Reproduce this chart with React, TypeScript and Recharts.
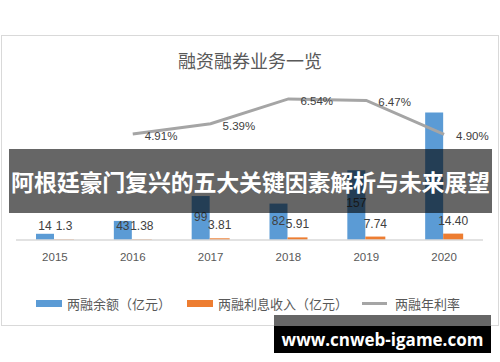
import React from 'react';
import {
  ComposedChart,
  Bar,
  Line,
  XAxis,
  YAxis,
  Legend,
  LabelList,
} from 'recharts';

const years = ['2015', '2016', '2017', '2018', '2019', '2020'];
const balance = [14, 43, 99, 82, 157, 287];
const interest = [1.3, 1.38, 3.81, 5.91, 7.74, 14.4];
const rate = [null, 4.91, 5.39, 6.54, 6.47, 4.9];
const balanceLabels = ['14', '43', '99', '82', '157', ''];
const interestLabels = ['1.3', '1.38', '3.81', '5.91', '7.74', '14.40'];
const rateLabels = ['', '4.91%', '5.39%', '6.54%', '6.47%', '4.90%'];

const seriesNames = ['两融余额（亿元）', '两融利息收入（亿元）', '两融年利率'];

const data = years.map((y, i) => ({
  year: y,
  balance: balance[i],
  interest: interest[i],
  rate: rate[i],
}));

// how far above the axis each blue label sits (the source places them by hand)
const blueLift = [14, 14, 23, 19, 37, 0];

const FONT = '"Liberation Sans", Arial, sans-serif';
const CJK = '"Noto Sans CJK SC", "Noto Sans", sans-serif';
const TEXT = '#404040';

const BlueLabel = (props: any) => {
  const { x, y, width, height, index } = props;
  const txt = balanceLabels[index];
  if (!txt) return null;
  const base = y + height;
  return (
    <text x={x + width / 2} y={base - blueLift[index]} textAnchor="middle" dominantBaseline="central"
      fontSize={12} fontFamily={FONT} fill={TEXT}>
      {txt}
    </text>
  );
};

const OrangeLabel = (props: any) => {
  const { x, y, width, index } = props;
  return (
    <text x={x + width / 2} y={y - 13} textAnchor="middle" dominantBaseline="central"
      fontSize={12} fontFamily={FONT} fill={TEXT}>
      {interestLabels[index]}
    </text>
  );
};

const RateLabel = (props: any) => {
  const { x, y, index } = props;
  const txt = rateLabels[index];
  if (!txt || y == null) return null;
  return (
    <text x={x + 12} y={y + 2} dominantBaseline="central"
      fontSize={11.5} fontFamily={FONT} fill={TEXT}>
      {txt}
    </text>
  );
};

const LegendBox = (props: any) => {
  const items = props.payload || [];
  const gaps = [36, 16, 14];
  return (
    <div style={{ display: 'flex', alignItems: 'center', fontFamily: CJK, fontSize: 13, color: '#595959' }}>
      {items.map((it: any, i: number) => (
        <div key={i} style={{ display: 'flex', alignItems: 'center', marginLeft: gaps[i] }}>
          {it.type === 'line' ? (
            <span style={{ width: 25, height: 3, background: it.color, marginRight: 8 }} />
          ) : (
            <span style={{ width: 26, height: 7, background: it.color, marginRight: 5 }} />
          )}
          <span>{it.value}</span>
        </div>
      ))}
    </div>
  );
};

export default function App() {
  return (
    <div style={{ position: 'absolute', left: 0, top: 0, width: 500, height: 362, background: '#fff', overflow: 'hidden' }}>
      <div style={{ position: 'absolute', left: 1, top: 35, width: 496, height: 289, border: '1.5px solid #d9d9d9' }} />
      <div style={{ position: 'absolute', left: 0, top: 47, width: 500, textAlign: 'center', fontFamily: CJK, fontSize: 18, color: '#595959' }}>
        融资融券业务一览
      </div>
      <div style={{ position: 'absolute', left: 0, top: 0 }}>
        <ComposedChart width={500} height={362} data={data} barGap={0}
          margin={{ top: 89, right: 17, bottom: 73, left: 16 }}>
          <XAxis dataKey="year" height={30} tickLine={false} tickSize={0} tickMargin={13}
            axisLine={{ stroke: '#d9d9d9', strokeWidth: 1.5 }}
            tick={{ fontSize: 11.5, fontFamily: FONT, fill: '#595959' }} />
          <YAxis yAxisId="l" hide domain={[0, 340]} />
          <YAxis yAxisId="r" hide orientation="right" domain={[0, 7]} />
          <Legend verticalAlign="bottom" wrapperStyle={{ top: 294, left: 0, width: 500 }}
            content={<LegendBox />} />
          <Bar yAxisId="l" dataKey="balance" name={seriesNames[0]} fill="#5B9BD5" barSize={18} isAnimationActive={false}>
            <LabelList dataKey="balance" content={<BlueLabel />} />
          </Bar>
          <Bar yAxisId="l" dataKey="interest" name={seriesNames[1]} fill="#ED7D31" barSize={20} isAnimationActive={false}>
            <LabelList dataKey="interest" content={<OrangeLabel />} />
          </Bar>
          <Line yAxisId="r" dataKey="rate" name={seriesNames[2]} type="linear" stroke="#A5A5A5" strokeWidth={3}
            dot={false} activeDot={false} legendType="line" isAnimationActive={false}>
            <LabelList dataKey="rate" content={<RateLabel />} />
          </Line>
        </ComposedChart>
      </div>
      <div style={{ position: 'absolute', left: 9, top: 149, width: 483, height: 64, background: 'rgba(0,0,0,0.6)',
        display: 'flex', alignItems: 'center', justifyContent: 'center', color: '#fff', fontFamily: CJK,
        fontWeight: 700, fontSize: 23, whiteSpace: 'nowrap', letterSpacing: -0.2 }}>
        阿根廷豪门复兴的五大关键因素解析与未来展望
      </div>
      <div style={{ position: 'absolute', left: 274, top: 315, width: 217, height: 11, background: '#666' }} />
      <div style={{ position: 'absolute', left: 274, top: 326, width: 217, height: 27, background: '#000',
        display: 'flex', alignItems: 'center', justifyContent: 'center', color: '#fff',
        fontFamily: '"Open Sans", sans-serif', fontWeight: 700, fontSize: 17 }}>
        www.cnweb-igame.com
      </div>
    </div>
  );
}
